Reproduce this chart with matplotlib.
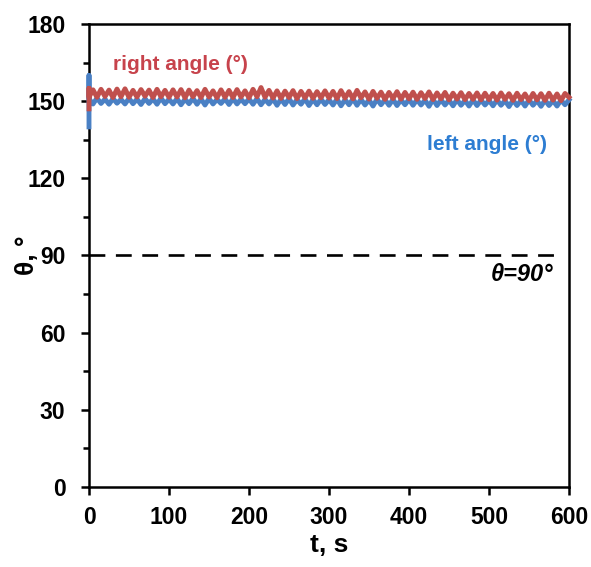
import numpy as np
import matplotlib
matplotlib.use("Agg")
import matplotlib.pyplot as plt
from matplotlib.ticker import MultipleLocator

plt.rcParams["font.family"] = ["Liberation Sans", "DejaVu Sans"]
plt.rcParams["font.weight"] = "bold"

# --- data ---
# time in s, one reading every 5 s
time_s = np.arange(0, 601, 5)
# the first frame jumps before settling (spike at t = 0)
spike_t = [0, 0]
right_spike = [147.0, 155.0]
left_spike = [140.0, 160.0]

right_angle = [
    151.6, 154.4, 151.5, 154.6, 151.8, 154.3, 151.4, 154.7, 151.7, 154.8,
    151.5, 154.2, 151.6, 154.5, 151.9, 154.3, 151.4, 154.6, 151.7, 154.2,
    151.5,
    154.4, 151.6, 154.5, 151.3, 154.3, 151.7, 154.1, 151.4, 154.6, 151.6,
    154.0, 151.3, 154.4, 151.5, 154.2, 151.4, 154.5, 151.6, 154.0, 151.3,
    154.6, 151.7, 155.3, 151.5, 154.2, 151.2, 154.0, 151.1, 153.9, 151.4,
    154.1, 151.0, 153.8, 151.3, 153.9, 151.1, 153.7, 151.3, 154.0, 151.2,
    153.8, 151.0, 154.1, 151.2, 153.7, 150.9, 154.2, 151.3, 153.6, 150.8,
    153.8, 151.1, 153.5, 150.7, 153.4, 151.0, 153.7, 150.8, 153.4, 150.9,
    153.5, 150.7, 153.3, 151.0, 153.6, 150.6, 153.2, 150.9, 153.4, 150.5,
    153.1, 150.8, 153.3, 150.6, 153.0, 150.7, 153.2, 150.5, 153.1, 150.6,
    153.0, 150.4, 153.2, 150.7, 152.9, 150.3, 153.1, 150.6, 152.8, 150.2,
    153.0, 150.5, 152.9, 150.3, 153.1, 150.4, 152.8, 150.2, 153.0, 151.5,
]
left_angle = [
    150.9, 148.9, 151.2, 149.1, 150.8, 148.8, 151.0, 149.2, 150.7, 148.9,
    151.1, 149.0, 150.8, 148.7, 151.0, 149.1, 150.9, 148.8, 151.2, 149.0,
    150.8,
    148.9, 151.0, 148.6, 150.8, 149.0, 151.1, 148.8, 150.9, 148.5, 151.0,
    148.9, 150.7, 149.1, 150.9, 148.7, 151.0, 148.9, 150.8, 149.0, 150.9,
    148.8, 151.0, 148.6, 150.7, 148.9, 150.9, 148.4, 150.8, 148.7, 151.0,
    148.5, 150.6, 148.8, 150.9, 148.3, 150.7, 148.6, 150.8, 148.7, 150.6,
    148.5, 150.8, 148.2, 150.6, 148.6, 150.9, 148.4, 150.7, 148.5, 150.5,
    148.1, 150.8, 148.6, 150.6, 148.4, 150.7, 148.3, 150.5, 148.6, 150.7,
    148.4, 150.6, 148.5, 150.4, 148.0, 150.7, 148.3, 150.5, 148.5, 150.4,
    148.2, 150.6, 148.4, 150.3, 148.1, 150.5, 148.3, 150.4, 148.5, 150.3,
    148.2, 150.5, 148.4, 150.2, 147.9, 150.4, 148.3, 150.3, 148.1, 150.5,
    148.4, 150.2, 148.0, 150.4, 148.3, 150.2, 148.1, 150.4, 148.6, 150.5,
]
ref_angle = 90
ref_span = [0, 586]

t_all = np.concatenate([spike_t, time_s])
right_all = np.concatenate([right_spike, right_angle])
left_all = np.concatenate([left_spike, left_angle])

fig = plt.figure(figsize=(5.91, 5.67), dpi=100)
ax = fig.add_axes([0.1506, 0.1411, 0.8122, 0.8166])

# lines sit on top of the frame, like the spike over the y axis at t = 0
ax.plot(t_all, left_all, color="#4A80C4", lw=3.5, solid_joinstyle="round",
        zorder=3, clip_on=False)
ax.plot(t_all, right_all, color="#C0504D", lw=3.5, solid_joinstyle="round",
        zorder=3.1, clip_on=False)
ax.plot(ref_span, [ref_angle, ref_angle], color="black", lw=1.9, dashes=(6, 4))

ax.text(30, 164.4, "right angle (°)", color="#C7434C", fontsize=15,
        fontweight="bold", ha="left", va="center")
ax.text(422, 133.3, "left angle (°)", color="#2D7DD2", fontsize=15,
        fontweight="bold", ha="left", va="center")
ax.text(580, 82.7, "θ=90°", fontsize=17, fontweight="bold",
        fontstyle="italic", ha="right", va="center")

ax.set_xlim(0, 600)
ax.set_ylim(0, 180)
ax.xaxis.set_major_locator(MultipleLocator(100))
ax.yaxis.set_major_locator(MultipleLocator(30))
ax.yaxis.set_minor_locator(MultipleLocator(15))
ax.tick_params(axis="both", which="major", direction="out", length=6, width=1.8,
               labelsize=16.5)
ax.tick_params(axis="x", which="major", pad=8)
ax.tick_params(axis="y", which="major", pad=11)
ax.tick_params(axis="y", which="minor", direction="out", length=4, width=1.8)
for lab in ax.get_xticklabels() + ax.get_yticklabels():
    lab.set_fontweight("bold")
for sp in ax.spines.values():
    sp.set_linewidth(1.8)

ax.set_xlabel("t, s", fontsize=19, fontweight="bold")
ax.set_ylabel("θ, °", fontsize=19, fontweight="bold")
ax.xaxis.set_label_coords(0.5, -0.099)
ax.yaxis.set_label_coords(-0.104, 0.5)

fig.savefig("out.png", dpi=100)
